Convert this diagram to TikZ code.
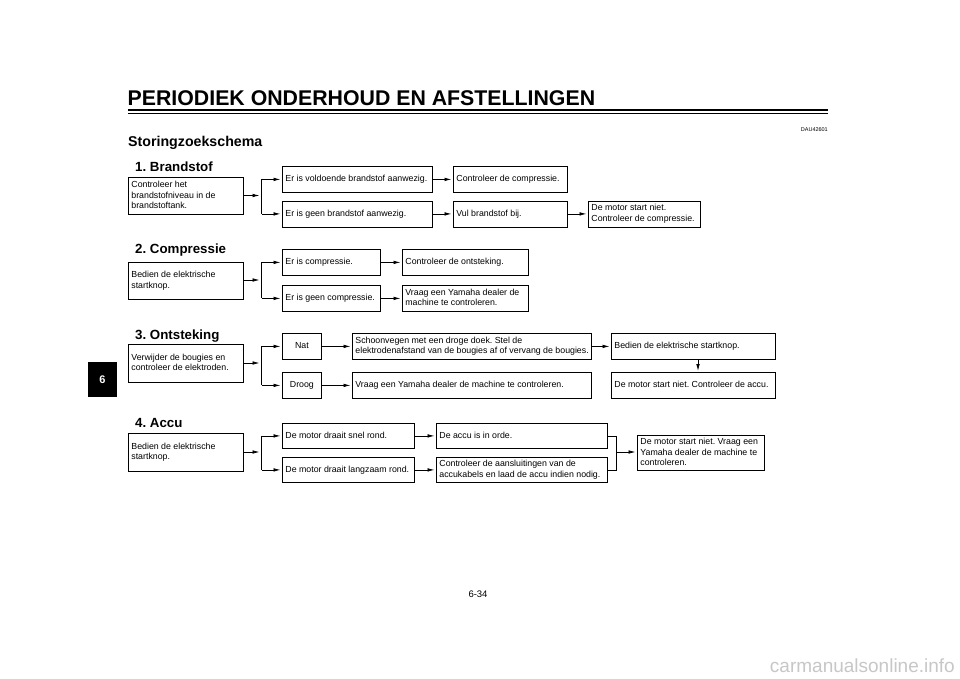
\documentclass[tikz,border=0pt]{standalone}
\usepackage{fontspec}
\setmainfont{Liberation Sans}
\usetikzlibrary{arrows.meta}
\frenchspacing
\newcommand\bodyfont{\fontsize{8.8}{10.7}\selectfont\frenchspacing}
\newcommand\headfont{\fontsize{13.3}{16}\selectfont\bfseries\frenchspacing}
\newcommand\mkbox[7]{%
  \pgfmathsetmacro\bxw{#4-#2-6}%
  \pgfmathsetmacro\bxh{#5-#3}%
  \node[flowbox, minimum width={(#4-#2)*1pt}, minimum height=\bxh pt] (#1) at (#2,#3)
    {\makebox[\bxw pt][#6]{\raisebox{-1pt}{\begin{tabular}{@{}#6@{}}#7\end{tabular}}}};}
\tikzset{
  flowbox/.style={draw, line width=0.8pt, inner xsep=3pt, inner ysep=0pt, anchor=north west, font=\bodyfont},
  conn/.style={line width=0.75pt},
  arr/.style={conn, -{Latex[length=7pt,width=3.6pt]}, shorten >=1.5pt},
  heading/.style={anchor=base west, inner sep=0pt, font=\headfont}
}
\begin{document}
\begin{tikzpicture}[x=1pt,y=-1pt]
\useasboundingbox (0,0) rectangle (960,679);
\fill[white] (0,0) rectangle (960,679);

% header
\node[anchor=base west, inner sep=0pt, font=\fontsize{21.3}{24}\selectfont\bfseries] (title) at (127.5,106) {PERIODIEK ONDERHOUD EN AFSTELLINGEN};
\draw[line width=2pt] (128,110.3) -- (828,110.3);
\draw[line width=0.8pt] (128,113.6) -- (828,113.6);
\node[anchor=base east, inner sep=0pt, font=\fontsize{5.5}{6}\selectfont] (code) at (828,132) {DAU42601};
\node[anchor=base west, inner sep=0pt, font=\fontsize{14.2}{16}\selectfont\bfseries] (sub) at (128,146.7) {Storingzoekschema};

% side tab
\fill[black] (88,362) rectangle (117,397);
\node[text=white, font=\fontsize{11}{12}\selectfont\bfseries, inner sep=0pt] (tab) at (102.5,380) {6};

% ---------- 1. Brandstof
\node[heading] (h1) at (135,171.5) {1. Brandstof};
\mkbox{a1}{128}{177}{243}{214}{l}{Controleer het\\brandstofniveau in de\\brandstoftank.}
\mkbox{b1}{282}{166}{432}{192}{l}{Er is voldoende brandstof aanwezig.}
\mkbox{b2}{282}{200.5}{432}{226.5}{l}{Er is geen brandstof aanwezig.}
\mkbox{c1}{453}{166}{567}{192}{l}{Controleer de compressie.}
\mkbox{c2}{453}{200.5}{567}{226.5}{l}{Vul brandstof bij.}
\mkbox{d2}{588}{200.5}{700}{226.5}{l}{De motor start niet.\\Controleer de compressie.}
\coordinate (j1) at (261.5,195.5);
\draw[arr, shorten >=2pt] (a1.east |- j1) -- (j1);
\draw[conn] (b1.west -| j1) -- (b2.west -| j1);
\draw[arr] (b1.west -| j1) -- (b1.west);
\draw[arr] (b2.west -| j1) -- (b2.west);
\draw[arr] (b1.east) -- (c1.west);
\draw[arr] (b2.east) -- (c2.west);
\draw[arr] (c2.east) -- (d2.west);

% ---------- 2. Compressie
\node[heading] (h2) at (135,253.5) {2. Compressie};
\mkbox{a2}{128}{261.5}{243}{299}{l}{Bedien de elektrische\\startknop.}
\mkbox{e1}{282}{249}{380}{275}{l}{Er is compressie.}
\mkbox{e2}{282}{285}{380}{311}{l}{Er is geen compressie.}
\mkbox{f1}{402}{249}{528}{275}{l}{Controleer de ontsteking.}
\mkbox{f2}{402}{285}{528}{311}{l}{Vraag een Yamaha dealer de\\machine te controleren.}
\coordinate (j2) at (261.5,280);
\draw[arr, shorten >=2pt] (a2.east |- j2) -- (j2);
\draw[conn] (e1.west -| j2) -- (e2.west -| j2);
\draw[arr] (e1.west -| j2) -- (e1.west);
\draw[arr] (e2.west -| j2) -- (e2.west);
\draw[arr] (e1.east) -- (f1.west);
\draw[arr] (e2.east) -- (f2.west);

% ---------- 3. Ontsteking
\node[heading] (h3) at (135,339.5) {3. Ontsteking};
\mkbox{a3}{128}{344}{243}{382}{l}{Verwijder de bougies en\\controleer de elektroden.}
\mkbox{n1}{282}{333}{321}{359}{c}{Nat}
\mkbox{n2}{282}{372}{321}{398}{c}{Droog}
\mkbox{s1}{352}{333}{591}{359}{l}{Schoonvegen met een droge doek. Stel de\\elektrodenafstand van de bougies af of vervang de bougies.}
\mkbox{s2}{352}{372}{591}{398}{l}{Vraag een Yamaha dealer de machine te controleren.}
\mkbox{t1}{611}{333}{775}{359}{l}{Bedien de elektrische startknop.}
\mkbox{t2}{611}{372}{775}{398}{l}{De motor start niet. Controleer de accu.}
\coordinate (j3) at (261.5,363);
\coordinate (v3) at (698,359);
\draw[arr, shorten >=2pt] (a3.east |- j3) -- (j3);
\draw[conn] (n1.west -| j3) -- (n2.west -| j3);
\draw[arr] (n1.west -| j3) -- (n1.west);
\draw[arr] (n2.west -| j3) -- (n2.west);
\draw[arr] (n1.east) -- (s1.west);
\draw[arr] (n2.east) -- (s2.west);
\draw[arr] (s1.east) -- (t1.west);
\draw[arr, shorten >=1pt] (v3) -- (v3 |- t2.north);

% ---------- 4. Accu
\node[heading] (h4) at (135,427) {4. Accu};
\mkbox{a4}{128}{433}{243}{471}{l}{Bedien de elektrische\\startknop.}
\mkbox{g1}{282}{423}{414}{448}{l}{De motor draait snel rond.}
\mkbox{g2}{282}{457}{414}{482}{l}{De motor draait langzaam rond.}
\mkbox{k1}{436}{423}{607}{448}{l}{De accu is in orde.}
\mkbox{k2}{436}{457}{607}{482}{l}{Controleer de aansluitingen van de\\accukabels en laad de accu indien nodig.}
\mkbox{m1}{637}{435}{764}{470}{l}{De motor start niet. Vraag een\\Yamaha dealer de machine te\\controleren.}
\coordinate (j4) at (261.5,452);
\coordinate (q4) at (616,452);
\draw[arr, shorten >=2pt] (a4.east |- j4) -- (j4);
\draw[conn] (g1.west -| j4) -- (g2.west -| j4);
\draw[arr] (g1.west -| j4) -- (g1.west);
\draw[arr] (g2.west -| j4) -- (g2.west);
\draw[arr] (g1.east) -- (k1.west);
\draw[arr] (g2.east) -- (k2.west);
\draw[conn] (k1.east) -- (k1.east -| q4) -- (k2.east -| q4) -- (k2.east);
\draw[arr] (q4) -- (q4 -| m1.west);

% footer
\node[anchor=base, inner sep=0pt, font=\fontsize{9.5}{11}\selectfont] (page) at (478,597.5) {6-34};
\node[anchor=base east, inner sep=0pt, font=\fontsize{19}{22}\selectfont, text=black!22] (wm) at (955,672) {carmanualsonline.info};
\end{tikzpicture}
\end{document}
